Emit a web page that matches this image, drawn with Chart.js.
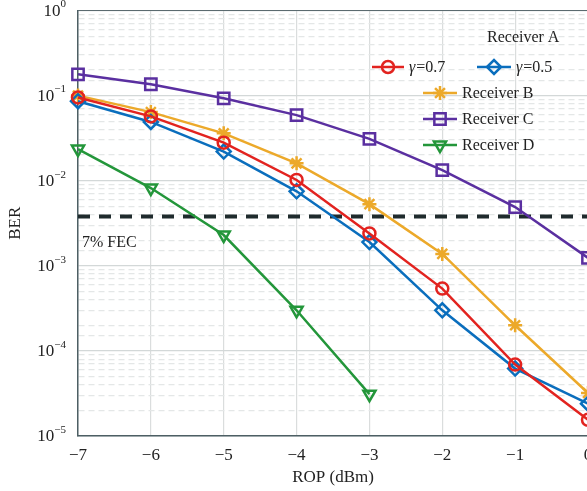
<!DOCTYPE html>
<html>
<head>
<meta charset="utf-8">
<script src="https://cdn.jsdelivr.net/npm/chart.js@4/dist/chart.umd.min.js"></script>
<style>
  html, body { margin: 0; padding: 0; background: #fff; overflow: hidden; }
  #wrap { width: 587px; height: 491px; overflow: hidden; }
</style>
</head>
<body>
<div id="wrap"><canvas id="berChart" width="610" height="491"></canvas></div>
<script>
// ROP in dBm
const ropValues = [-7, -6, -5, -4, -3, -2, -1, 0];
// BER
const berA07 = [0.095, 0.057, 0.028, 0.0102, 0.0024, 0.00054, 0.000069, 0.0000155];
const berA05 = [0.086, 0.049, 0.022, 0.0075, 0.0019, 0.00030, 0.000062, 0.000024];
const berB = [0.100, 0.064, 0.036, 0.016, 0.0053, 0.00138, 0.00020, 0.000032];
const berC = [0.178, 0.136, 0.093, 0.059, 0.031, 0.0133, 0.0049, 0.00124];
const berD = [0.0235, 0.0082, 0.0023, 0.00030, 0.000031];
const fecLimit = 0.0038;
const fecLabel = '7% FEC';
const yTickExps = [0, -1, -2, -3, -4, -5];

const FONT = '"Liberation Serif", "Times New Roman", serif';
const TEXT = '#222';

const toPoints = (ys) => ys.map((y, i) => ({ x: ropValues[i], y: y }));

function series(label, ys, color, style, radius, rotation) {
  return {
    label: label,
    data: toPoints(ys),
    borderColor: color,
    backgroundColor: color,
    borderWidth: 2.5,
    pointStyle: style,
    pointRadius: radius,
    pointRotation: rotation || 0,
    pointBorderWidth: 2.5,
    pointBackgroundColor: 'rgba(255,255,255,0)',
    pointBorderColor: color,
    tension: 0,
    clip: false
  };
}

const colors = {
  a07: '#e2231f',
  a05: '#0a6ebd',
  b: '#eca92a',
  c: '#5a2fa0',
  d: '#23963a'
};

const isDecade = (v) => Math.abs(Math.log10(v) - Math.round(Math.log10(v))) < 1e-6;

const berLabels = {
  id: 'berLabels',
  afterDraw(chart) {
    const ctx = chart.ctx;
    const y = chart.scales.y;
    const area = chart.chartArea;
    ctx.save();

    // top border of the box
    ctx.strokeStyle = '#5b6b70';
    ctx.lineWidth = 1.2;
    ctx.beginPath();
    ctx.moveTo(area.left, area.top);
    ctx.lineTo(area.right, area.top);
    ctx.stroke();

    // y tick labels with superscripts
    ctx.fillStyle = TEXT;
    ctx.textBaseline = 'middle';
    for (const e of yTickExps) {
      const py = y.getPixelForValue(Math.pow(10, e));
      const expText = e === 0 ? '0' : '\u2212' + Math.abs(e);
      ctx.font = '17px ' + FONT;
      const baseW = ctx.measureText('10').width;
      ctx.font = '11px ' + FONT;
      const expW = ctx.measureText(expText).width;
      const right = 66;
      ctx.font = '17px ' + FONT;
      ctx.textAlign = 'left';
      ctx.fillText('10', right - expW - baseW, py + 1);
      ctx.font = '11px ' + FONT;
      ctx.fillText(expText, right - expW, py - 6);
    }

    // FEC label
    ctx.font = '16px ' + FONT;
    ctx.textAlign = 'left';
    ctx.fillText(fecLabel, chart.scales.x.getPixelForValue(-7) + 4, y.getPixelForValue(0.00185));

    // legend
    const rows = [
      { ds: 0, x1: 372, x2: 404, y: 67, text: '=0.7', gamma: true },
      { ds: 1, x1: 477, x2: 511, y: 67, text: '=0.5', gamma: true },
      { ds: 2, x1: 423, x2: 457, y: 93, text: 'Receiver B' },
      { ds: 3, x1: 423, x2: 457, y: 119, text: 'Receiver C' },
      { ds: 4, x1: 423, x2: 457, y: 145, text: 'Receiver D' }
    ];
    ctx.textBaseline = 'middle';
    ctx.font = '16px ' + FONT;
    ctx.fillText('Receiver A', 487, 38);
    for (const r of rows) {
      const ds = chart.data.datasets[r.ds];
      ctx.strokeStyle = ds.borderColor;
      ctx.lineWidth = 2.5;
      ctx.beginPath();
      ctx.moveTo(r.x1, r.y);
      ctx.lineTo(r.x2, r.y);
      ctx.stroke();
      ctx.fillStyle = 'rgba(255,255,255,0)';
      Chart.helpers.drawPoint(ctx, {
        pointStyle: ds.pointStyle,
        radius: ds.pointRadius,
        rotation: ds.pointRotation,
        borderWidth: 2.5
      }, (r.x1 + r.x2) / 2, r.y);
      ctx.fillStyle = TEXT;
      let tx = r.x2 + 5;
      if (r.gamma) {
        ctx.font = 'italic 16px ' + FONT;
        ctx.fillText('\u03b3', tx, r.y + 1);
        tx += ctx.measureText('\u03b3').width + 1;
      }
      ctx.font = '16px ' + FONT;
      ctx.fillText(r.text, tx, r.y + 1);
    }
    ctx.restore();
  }
};

new Chart(document.getElementById('berChart'), {
  type: 'line',
  data: {
    datasets: [
      series('\u03b3=0.7', berA07, colors.a07, 'circle', 6),
      series('\u03b3=0.5', berA05, colors.a05, 'rectRot', 7),
      series('Receiver B', berB, colors.b, 'star', 7),
      series('Receiver C', berC, colors.c, 'rect', 8),
      series('Receiver D', berD, colors.d, 'triangle', 7, 180),
      {
        label: fecLabel,
        data: [{ x: -7, y: fecLimit }, { x: 0.5, y: fecLimit }],
        borderColor: '#1f2b2d',
        borderWidth: 4,
        borderDash: [12, 9],
        pointRadius: 0,
        tension: 0
      }
    ]
  },
  options: {
    responsive: false,
    animation: false,
    layout: { padding: { top: 10, right: 22, bottom: 3, left: 0 } },
    plugins: {
      legend: { display: false },
      tooltip: { enabled: false }
    },
    scales: {
      x: {
        type: 'linear',
        min: -7,
        max: 0,
        afterFit: (scale) => { scale.height = 52; },
        ticks: {
          stepSize: 1,
          padding: 9,
          color: TEXT,
          font: { family: FONT, size: 17 },
          callback: (v) => v < 0 ? '\u2212' + Math.abs(v) : String(v)
        },
        grid: { color: '#dadddd', lineWidth: 1.2, drawTicks: false },
        border: { color: '#4d5f64', width: 1.5 },
        title: {
          display: true,
          text: 'ROP (dBm)',
          color: TEXT,
          font: { family: FONT, size: 17 },
          padding: { top: 2, bottom: 0 }
        }
      },
      y: {
        type: 'logarithmic',
        min: 0.00001,
        max: 1,
        afterFit: (scale) => { scale.width = 78; },
        ticks: {
          autoSkip: false,
          color: TEXT,
          font: { family: FONT, size: 8 },
          callback: () => ''
        },
        grid: {
          drawTicks: false,
          lineWidth: 1.2,
          color: (ctx) => ctx.tick && isDecade(ctx.tick.value) ? '#d3d8d8' : '#e4e7e7'
        },
        border: {
          color: '#4d5f64',
          width: 1.5,
          dash: (ctx) => ctx.tick && !isDecade(ctx.tick.value) ? [6, 4] : []
        },
        title: {
          display: true,
          text: 'BER',
          color: TEXT,
          font: { family: FONT, size: 17 },
          padding: { top: 5, bottom: 0 }
        }
      }
    }
  },
  plugins: [berLabels]
});
</script>
</body>
</html>
